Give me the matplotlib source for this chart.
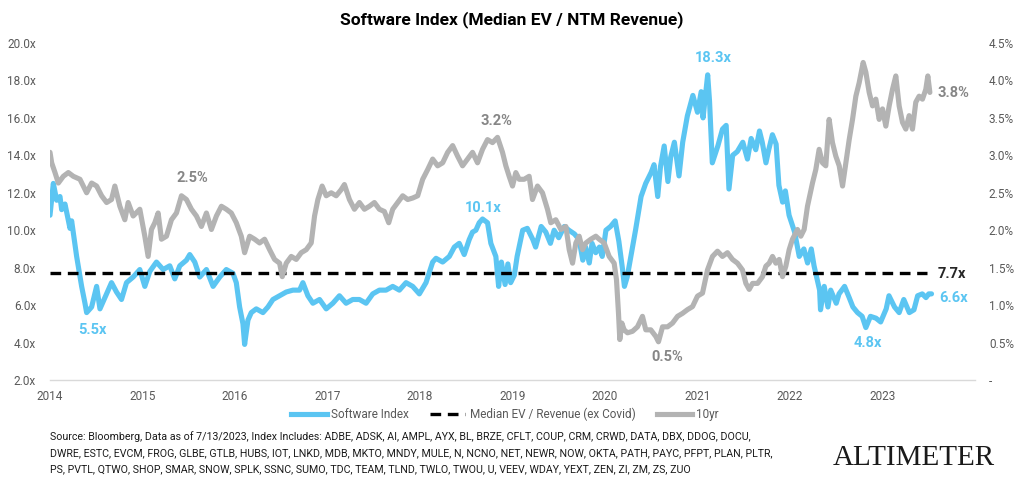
import matplotlib
matplotlib.use("Agg")
import matplotlib.pyplot as plt
from matplotlib.ticker import FuncFormatter, FixedLocator
from matplotlib.lines import Line2D

plt.rcParams['font.family'] = ['Roboto', 'DejaVu Sans']

# ---------------- data (decimal years) ----------------
sw_dates = [
    2014.000, 2014.036, 2014.072, 2014.108, 2014.126, 2014.162, 2014.216, 2014.234, 2014.288, 2014.342,
    2014.378, 2014.396, 2014.450, 2014.504, 2014.540, 2014.612, 2014.665, 2014.719, 2014.773, 2014.827,
    2014.899, 2014.971, 2015.025, 2015.079, 2015.151, 2015.223, 2015.295, 2015.349, 2015.403, 2015.475,
    2015.511, 2015.565, 2015.619, 2015.691, 2015.763, 2015.835, 2015.906, 2015.978, 2016.014, 2016.050,
    2016.086, 2016.104, 2016.140, 2016.176, 2016.230, 2016.302, 2016.356, 2016.410, 2016.482, 2016.554,
    2016.626, 2016.698, 2016.734, 2016.788, 2016.842, 2016.914, 2016.986, 2017.058, 2017.129, 2017.201,
    2017.273, 2017.345, 2017.417, 2017.489, 2017.561, 2017.633, 2017.705, 2017.777, 2017.849, 2017.921,
    2017.993, 2018.065, 2018.137, 2018.173, 2018.245, 2018.317, 2018.371, 2018.424, 2018.478, 2018.532,
    2018.568, 2018.604, 2018.640, 2018.676, 2018.730, 2018.766, 2018.820, 2018.850, 2018.880, 2018.920,
    2018.950, 2018.980, 2019.020, 2019.050, 2019.110, 2019.160, 2019.220, 2019.250, 2019.310, 2019.360,
    2019.410, 2019.450, 2019.500, 2019.560, 2019.610, 2019.670, 2019.720, 2019.760, 2019.790, 2019.830,
    2019.860, 2019.900, 2019.940, 2019.970, 2020.010, 2020.060, 2020.110, 2020.150, 2020.190, 2020.210,
    2020.240, 2020.280, 2020.330, 2020.390, 2020.440, 2020.500, 2020.530, 2020.570, 2020.600, 2020.640,
    2020.680, 2020.710, 2020.750, 2020.800, 2020.840, 2020.890, 2020.950, 2021.000, 2021.040, 2021.060,
    2021.110, 2021.130, 2021.160, 2021.220, 2021.270, 2021.310, 2021.340, 2021.380, 2021.430, 2021.490,
    2021.540, 2021.580, 2021.630, 2021.670, 2021.700, 2021.740, 2021.770, 2021.810, 2021.850, 2021.880,
    2021.920, 2021.950, 2021.990, 2022.050, 2022.100, 2022.150, 2022.190, 2022.230, 2022.260, 2022.320,
    2022.330, 2022.370, 2022.410, 2022.440, 2022.500, 2022.530, 2022.590, 2022.640, 2022.680, 2022.730,
    2022.780, 2022.820, 2022.870, 2022.930, 2022.980, 2023.040, 2023.070, 2023.130, 2023.180, 2023.230,
    2023.290, 2023.340, 2023.380, 2023.430, 2023.470, 2023.500, 2023.530,
]
sw_values = [
    10.8, 12.5, 11.6, 11.8, 11.1, 11.4, 10.1, 10.5, 8.6, 7.0,
    6.1, 5.6, 5.9, 7.0, 5.8, 6.6, 7.2, 6.7, 6.3, 7.2,
    7.5, 7.9, 7.0, 7.8, 8.3, 7.9, 8.1, 7.4, 8.1, 8.4,
    8.7, 8.3, 7.5, 7.9, 7.0, 7.5, 7.9, 7.7, 7.2, 5.9,
    5.0, 3.9, 5.2, 5.6, 5.8, 5.6, 5.9, 6.3, 6.5, 6.7,
    6.8, 6.8, 7.2, 6.5, 6.1, 6.3, 5.8, 6.1, 6.5, 6.1,
    6.3, 6.3, 6.1, 6.6, 6.8, 6.8, 7.0, 6.8, 7.2, 7.0,
    6.6, 7.2, 8.3, 8.5, 8.3, 8.6, 9.1, 9.3, 8.7, 9.5,
    9.9, 10.0, 10.4, 10.6, 10.4, 9.3, 8.6, 7.0, 8.3, 7.1,
    8.2, 7.2, 7.6, 8.6, 10.0, 10.1, 9.5, 9.1, 10.2, 9.9,
    9.3, 10.0, 9.6, 10.2, 10.0, 9.8, 9.5, 8.4, 9.1, 8.25,
    9.3, 8.8, 9.1, 8.6, 10.0, 10.2, 10.5, 9.4, 7.9, 7.0,
    7.5, 8.6, 10.0, 11.8, 12.5, 13.1, 13.5, 11.8, 13.4, 14.5,
    12.6, 13.9, 14.7, 12.9, 14.7, 16.1, 17.2, 16.3, 17.4, 16.0,
    18.3, 16.9, 13.6, 14.5, 15.4, 15.6, 12.2, 14.0, 14.2, 14.7,
    13.8, 14.9, 14.3, 15.3, 14.7, 13.6, 14.3, 15.1, 14.6, 12.4,
    11.5, 12.1, 10.8, 9.9, 8.6, 9.0, 8.25, 9.0, 8.1, 6.8,
    5.75, 7.0, 5.9, 6.8, 6.1, 6.6, 7.0, 6.4, 5.9, 5.6,
    5.4, 4.8, 5.4, 5.3, 5.1, 5.8, 6.5, 5.9, 5.6, 6.3,
    5.6, 5.75, 6.5, 6.6, 6.4, 6.6, 6.6,
]

y10_dates = [
    2014.000, 2014.018, 2014.054, 2014.090, 2014.144, 2014.198, 2014.252, 2014.324, 2014.396, 2014.450,
    2014.504, 2014.558, 2014.612, 2014.665, 2014.701, 2014.755, 2014.809, 2014.845, 2014.899, 2014.971,
    2015.025, 2015.061, 2015.097, 2015.133, 2015.169, 2015.205, 2015.259, 2015.313, 2015.367, 2015.421,
    2015.475, 2015.529, 2015.583, 2015.637, 2015.691, 2015.745, 2015.799, 2015.853, 2015.906, 2015.960,
    2016.014, 2016.068, 2016.104, 2016.158, 2016.212, 2016.266, 2016.320, 2016.374, 2016.428, 2016.482,
    2016.511, 2016.554, 2016.608, 2016.662, 2016.716, 2016.770, 2016.824, 2016.860, 2016.896, 2016.942,
    2016.986, 2017.040, 2017.094, 2017.147, 2017.183, 2017.237, 2017.291, 2017.345, 2017.399, 2017.453,
    2017.507, 2017.561, 2017.615, 2017.662, 2017.705, 2017.759, 2017.813, 2017.867, 2017.921, 2017.975,
    2018.029, 2018.083, 2018.137, 2018.191, 2018.245, 2018.299, 2018.353, 2018.406, 2018.460, 2018.514,
    2018.568, 2018.622, 2018.676, 2018.730, 2018.784, 2018.838,
    2018.892, 2018.928, 2018.964, 2019.000, 2019.036, 2019.072, 2019.126, 2019.180, 2019.216,
    2019.270, 2019.324, 2019.378, 2019.414, 2019.468, 2019.523, 2019.577, 2019.613, 2019.649, 2019.685,
    2019.721, 2019.757, 2019.793, 2019.847, 2019.901, 2019.937, 2019.991, 2020.045, 2020.099, 2020.124,
    2020.146, 2020.160, 2020.182, 2020.207, 2020.243, 2020.297, 2020.351, 2020.405, 2020.441, 2020.495,
    2020.550, 2020.578, 2020.622, 2020.676, 2020.730, 2020.784, 2020.838, 2020.892, 2020.946, 2021.000,
    2021.054, 2021.108, 2021.162, 2021.216, 2021.270, 2021.324, 2021.378, 2021.432, 2021.486, 2021.523,
    2021.559, 2021.595, 2021.649, 2021.703, 2021.739, 2021.775, 2021.811, 2021.847, 2021.883, 2021.919,
    2021.955, 2021.991, 2022.027, 2022.081, 2022.117, 2022.153, 2022.189, 2022.243, 2022.279, 2022.315,
    2022.351, 2022.387, 2022.423, 2022.459, 2022.495, 2022.532, 2022.568, 2022.604, 2022.640, 2022.676,
    2022.712, 2022.748, 2022.791, 2022.820, 2022.856, 2022.892, 2022.928, 2022.964, 2023.000, 2023.036,
    2023.072, 2023.108, 2023.144, 2023.180, 2023.216, 2023.252, 2023.288, 2023.324, 2023.360, 2023.396,
    2023.432, 2023.468, 2023.490, 2023.512,
]
y10_values = [
    3.04, 2.90, 2.77, 2.63, 2.72, 2.77, 2.72, 2.68, 2.50, 2.63,
    2.59, 2.46, 2.37, 2.41, 2.59, 2.32, 2.14, 2.37, 2.19, 2.28,
    1.92, 1.65, 2.01, 2.10, 2.23, 1.88, 1.92, 2.14, 2.23, 2.46,
    2.41, 2.28, 2.19, 2.05, 2.23, 2.01, 2.19, 2.32, 2.28, 2.23,
    2.10, 1.92, 1.70, 1.92, 1.88, 1.83, 1.88, 1.74, 1.61, 1.56,
    1.38, 1.56, 1.65, 1.61, 1.70, 1.74, 1.83, 2.19, 2.41, 2.59,
    2.46, 2.50, 2.46, 2.54, 2.61, 2.41, 2.28, 2.37, 2.28, 2.32,
    2.37, 2.28, 2.25, 2.10, 2.28, 2.37, 2.46, 2.41, 2.43, 2.46,
    2.68, 2.81, 2.95, 2.86, 2.90, 3.04, 3.13, 2.99, 2.86, 2.95,
    3.04, 2.90, 3.08, 3.21, 3.17, 3.24,
    3.04, 2.86, 2.72, 2.59, 2.77, 2.68, 2.68, 2.72, 2.41,
    2.59, 2.50, 2.28, 2.10, 2.14, 2.01, 2.05, 1.74, 1.56, 1.83,
    1.92, 1.74, 1.83, 1.88, 1.92, 1.88, 1.83, 1.65, 1.56, 1.34,
    0.89, 0.54, 0.76, 0.67, 0.63, 0.65, 0.71, 0.85, 0.67, 0.67,
    0.58, 0.51, 0.71, 0.71, 0.76, 0.85, 0.89, 0.94, 0.98, 1.12,
    1.16, 1.47, 1.65, 1.72, 1.65, 1.70, 1.61, 1.56, 1.47, 1.29,
    1.21, 1.29, 1.29, 1.38, 1.52, 1.56, 1.65, 1.56, 1.61, 1.38,
    1.52, 1.74, 1.88, 2.01, 1.92, 2.01, 2.32, 2.63, 2.81, 3.08,
    2.90, 2.86, 3.48, 3.17, 2.99, 2.86, 2.59, 2.90, 3.21, 3.48,
    3.79, 3.97, 4.24, 4.11, 3.84, 3.66, 3.75, 3.48, 3.62, 3.39,
    3.66, 3.88, 4.06, 3.66, 3.44, 3.35, 3.53, 3.35, 3.71, 3.79,
    3.75, 3.88, 4.06, 3.84,
]

median_dates = [2014.0, 2023.48]
median_values = [7.7, 7.7]

year_ticks = [2014, 2015, 2016, 2017, 2018, 2019, 2020, 2021, 2022, 2023]
left_ticks = [2, 4, 6, 8, 10, 12, 14, 16, 18, 20]
right_ticks = [0, 0.5, 1.0, 1.5, 2.0, 2.5, 3.0, 3.5, 4.0, 4.5]

title = "Software Index (Median EV / NTM Revenue)"
legend_labels = ["Software Index", "Median EV / Revenue (ex Covid)", "10yr"]
source_lines = [
    "Source: Bloomberg, Data as of 7/13/2023, Index Includes: ADBE, ADSK, AI, AMPL, AYX, BL, BRZE, CFLT, COUP, CRM, CRWD, DATA, DBX, DDOG, DOCU,",
    "DWRE, ESTC, EVCM, FROG, GLBE, GTLB, HUBS, IOT, LNKD, MDB, MKTO, MNDY, MULE, N, NCNO, NET, NEWR, NOW, OKTA, PATH, PAYC, PFPT, PLAN, PLTR,",
    "PS, PVTL, QTWO, SHOP, SMAR, SNOW, SPLK, SSNC, SUMO, TDC, TEAM, TLND, TWLO, TWOU, U, VEEV, WDAY, YEXT, ZEN, ZI, ZM, ZS, ZUO",
]

# ---------------- style ----------------
BLUE = "#5BC5F2"
GRAY = "#B3B3B3"
GRAY_TXT = "#868686"
TICK = "#595959"

fig = plt.figure(figsize=(10.24, 4.91), dpi=100)
ax = fig.add_axes([50/1024, 1-380/491, 925/1024, 337/491])
ax2 = ax.twinx()

ax.plot(sw_dates, sw_values, color=BLUE, lw=3.7, solid_joinstyle='round', solid_capstyle='round', zorder=2)
ax.plot(median_dates, median_values, color="black", lw=2.4, dashes=(3.2, 2.0), zorder=3)
ax2.plot(y10_dates, y10_values, color=GRAY, lw=3.7, solid_joinstyle='round', solid_capstyle='round', zorder=2)

ax.set_xlim(2014, 2024)
ax.set_ylim(2, 20)
ax2.set_ylim(0, 4.5)

ax.xaxis.set_major_locator(FixedLocator(year_ticks))
ax.set_xticklabels([str(y) for y in year_ticks])
ax.yaxis.set_major_locator(FixedLocator(left_ticks))
ax.yaxis.set_major_formatter(FuncFormatter(lambda v, p: f"{v:.1f}x"))
ax2.yaxis.set_major_locator(FixedLocator(right_ticks))
ax2.yaxis.set_major_formatter(FuncFormatter(lambda v, p: "-" if v == 0 else f"{v:.1f}%"))

for a in (ax, ax2):
    for s in ("top", "left", "right"):
        a.spines[s].set_visible(False)
    a.spines["bottom"].set_color("#D9D9D9")
    a.spines["bottom"].set_linewidth(1.0)
    a.tick_params(length=0, labelsize=8.5, labelcolor=TICK)
ax2.spines["bottom"].set_visible(False)
ax.tick_params(axis='y', pad=10)
ax.tick_params(axis='x', pad=7)
ax2.tick_params(axis='y', pad=10)

# annotations (placed on secondary-axis coordinates)
ann = [
    ("5.5x", 2014.46, 0.667, BLUE),
    ("2.5%", 2015.54, 2.70, GRAY_TXT),
    ("3.2%", 2018.83, 3.46, GRAY_TXT),
    ("10.1x", 2018.68, 2.30, BLUE),
    ("18.3x", 2021.17, 4.30, BLUE),
    ("0.5%", 2020.67, 0.307, GRAY_TXT),
    ("4.8x", 2022.84, 0.494, BLUE),
    ("7.7x", 2023.75, 1.415, "#262626"),
    ("6.6x", 2023.77, 1.095, BLUE),
    ("3.8%", 2023.77, 3.83, GRAY_TXT),
]
for t, x, y, c in ann:
    ax2.text(x, y, t, color=c, fontsize=10.5, fontweight='bold', ha='center', va='center', zorder=5)

fig.text(0.5, 1-20/491, title, ha='center', va='center', fontsize=12.5, fontweight='bold', color='black')

handles = [
    Line2D([], [], color=BLUE, lw=3.7),
    Line2D([], [], color='black', lw=2.4, dashes=(3.2, 2.0)),
    Line2D([], [], color=GRAY, lw=3.7),
]
leg = fig.legend(handles, legend_labels, loc='center', bbox_to_anchor=(505/1024, 1-414/491),
                 ncol=3, frameon=False, fontsize=8.5, handlelength=3.0, handletextpad=0.35,
                 columnspacing=1.8)
for t in leg.get_texts():
    t.set_color(TICK)

for i, line in enumerate(source_lines):
    fig.text(50/1024, 1-(437+16*i)/491, line, ha='left', va='center', fontsize=7.7, color='#1a1a1a')

fig.text(914/1024, 1-458/491, "ALTIMETER", ha='center', va='center', fontsize=21,
         family=['Liberation Serif', 'DejaVu Serif'], color='#1a1a1a')

fig.savefig("out.png", dpi=100)
